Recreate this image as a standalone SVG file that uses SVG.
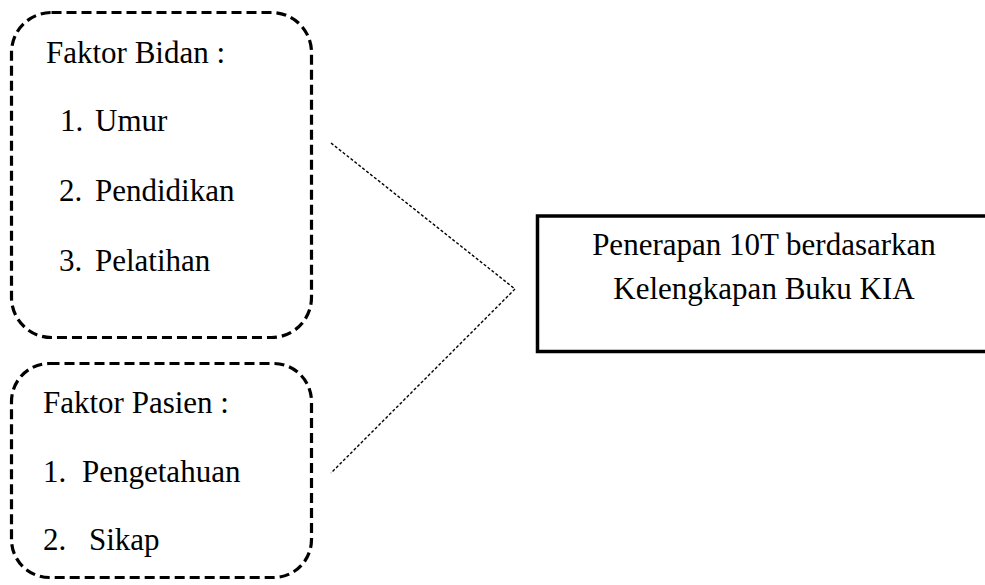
<svg xmlns="http://www.w3.org/2000/svg" width="985" height="585" viewBox="0 0 985 585">
<style>
.t{font-family:"Liberation Serif","Times New Roman","DejaVu Serif",serif;font-size:31px;fill:#000}
.dbox{fill:none;stroke:#000;stroke-width:3.2;stroke-dasharray:10 5}
.conn{fill:none;stroke:#000;stroke-width:1.4;stroke-dasharray:3 2}
</style>
<rect width="985" height="585" fill="#fff"/>
<g id="faktor-bidan">
<rect class="dbox" x="11.5" y="12.5" width="300" height="325" rx="40" ry="40"/>
<text class="t" x="46" y="63">Faktor Bidan :</text>
<text class="t" y="131"><tspan x="60">1.</tspan><tspan x="95">Umur</tspan></text>
<text class="t" y="201"><tspan x="59">2.</tspan><tspan x="95">Pendidikan</tspan></text>
<text class="t" y="271"><tspan x="59">3.</tspan><tspan x="95">Pelatihan</tspan></text>
</g>
<g id="faktor-pasien">
<rect class="dbox" x="11.5" y="363.5" width="300" height="214" rx="38" ry="38"/>
<text class="t" x="43" y="413">Faktor Pasien :</text>
<text class="t" y="482"><tspan x="43">1.</tspan><tspan x="82">Pengetahuan</tspan></text>
<text class="t" y="550"><tspan x="43">2.</tspan><tspan x="89">Sikap</tspan></text>
</g>
<g id="penerapan">
<rect x="537.5" y="216" width="460" height="135.5" fill="none" stroke="#000" stroke-width="3.5"/>
<text class="t" x="764" y="255" text-anchor="middle">Penerapan 10T berdasarkan</text>
<text class="t" x="764" y="299" text-anchor="middle">Kelengkapan Buku KIA</text>
</g>
<g id="connectors">
<line class="conn" x1="331" y1="143" x2="515" y2="289"/>
<line class="conn" x1="515" y1="289" x2="331" y2="473"/>
</g>
</svg>
